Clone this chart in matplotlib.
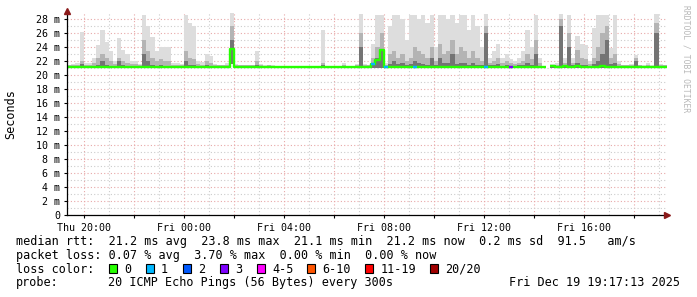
import numpy as np
import matplotlib
matplotlib.use('Agg')
import matplotlib.pyplot as plt
from matplotlib.patches import Rectangle

# 10 minute bins, hours counted from Thu 00:00
start_h = 19 + 20 / 60
bin_h = 1 / 6

# smoke (ms): light = slowest pings, mid / dark = inner pings
smoke_max = [
    21.5, 21.6, 21.8, 26.2, 21.7, 21.8, 22.4, 24.3, 26.5, 24.8, 23.4, 22.0,
    25.3, 23.6, 23.0, 22.0, 22.1, 21.6, 28.6, 27.0, 25.5, 23.4, 24.0, 24.1,
    24.1, 21.8, 21.7, 21.6, 28.6, 27.4, 27.0, 22.0, 21.9, 23.1, 22.8, 21.6,
    21.5, 21.5, 21.8, 29.0, 21.6, 21.5, 21.5, 21.5, 21.5, 23.4, 21.6, 21.4,
    21.5, 21.4, 21.3, 21.3, 21.3, 21.3, 21.3, 21.3, 21.3, 21.3, 21.3, 21.3,
    21.3, 26.5, 21.3, 21.3, 21.3, 21.3, 21.8, 21.3, 21.3, 21.6, 28.7, 21.6,
    21.5, 24.5, 28.6, 28.6, 21.8, 27.0, 28.6, 28.6, 28.0, 25.0, 28.6, 28.6,
    28.0, 28.6, 27.5, 28.6, 24.0, 28.6, 28.6, 28.0, 28.6, 27.5, 28.6, 28.6,
    26.5, 28.6, 27.0, 24.0, 28.7, 22.5, 23.5, 24.5, 22.5, 23.0, 22.3, 22.0,
    22.5, 23.5, 26.4, 24.0, 28.6, 22.5, 22.0, np.nan, 21.6, 21.8, 28.7, 22.5,
    28.6, 22.5, 25.6, 24.5, 24.3, 22.0, 26.7, 28.6, 28.6, 28.6, 23.9, 28.6,
    22.0, 21.5, 21.5, 21.6, 22.9, 21.5, 21.4, 21.8, 21.4, 28.7, 21.6, 21.5,
]
smoke_mid = [
    21.4, 21.4, 21.5, 22.0, 21.4, 21.5, 21.8, 22.5, 23.0, 22.5, 22.0, 21.6,
    22.5, 22.0, 21.8, 21.6, 21.6, 21.4, 25.0, 23.5, 22.5, 22.0, 22.3, 22.0,
    22.0, 21.5, 21.5, 21.4, 23.5, 22.5, 22.3, 21.6, 21.5, 22.0, 21.8, 21.4,
    21.4, 21.4, 21.5, 27.0, 21.4, 21.4, 21.4, 21.4, 21.4, 22.0, 21.4, 21.3,
    21.4, 21.3, 21.3, 21.3, 21.3, 21.3, 21.3, 21.3, 21.3, 21.3, 21.3, 21.3,
    21.3, 21.8, 21.3, 21.3, 21.3, 21.3, 21.5, 21.3, 21.3, 21.4, 26.0, 21.4,
    21.4, 22.5, 24.0, 26.0, 21.5, 23.0, 23.5, 22.5, 23.0, 22.0, 22.5, 24.0,
    23.5, 23.0, 22.5, 24.0, 22.0, 24.5, 23.0, 23.5, 25.0, 23.0, 24.0, 23.5,
    22.5, 23.5, 22.5, 22.0, 27.0, 21.8, 22.0, 22.5, 21.8, 22.0, 21.7, 21.6,
    21.8, 22.0, 23.0, 22.3, 25.0, 21.8, 21.6, np.nan, 21.4, 21.5, 28.0, 21.8,
    26.0, 21.8, 23.6, 22.5, 22.3, 21.6, 22.5, 24.0, 26.0, 27.0, 22.5, 23.0,
    21.6, 21.4, 21.4, 21.5, 22.5, 21.4, 21.3, 21.5, 21.3, 27.5, 21.4, 21.4,
]
smoke_dark = [
    21.3, 21.3, 21.3, 21.6, 21.3, 21.3, 21.3, 21.4, 22.0, 21.5, 21.3, 21.3,
    22.0, 21.4, 21.3, 21.3, 21.3, 21.3, 23.0, 22.0, 21.5, 21.3, 21.4, 21.3,
    21.3, 21.3, 21.3, 21.3, 22.0, 21.5, 21.4, 21.3, 21.3, 21.4, 21.3, 21.3,
    21.3, 21.3, 21.3, 25.0, 21.3, 21.3, 21.3, 21.3, 21.3, 21.4, 21.3, 21.3,
    21.3, 21.3, 21.3, 21.3, 21.3, 21.3, 21.3, 21.3, 21.3, 21.3, 21.3, 21.3,
    21.3, 21.4, 21.3, 21.3, 21.3, 21.3, 21.3, 21.3, 21.3, 21.3, 24.0, 21.3,
    21.3, 21.6, 22.5, 23.5, 21.3, 21.6, 22.0, 21.6, 21.7, 21.4, 21.6, 22.0,
    21.8, 21.6, 21.5, 22.5, 21.4, 22.5, 21.8, 21.7, 23.0, 21.6, 21.8, 21.7,
    21.5, 21.8, 21.5, 21.4, 26.0, 21.4, 21.4, 21.6, 21.3, 21.4, 21.3, 21.3,
    21.4, 21.4, 21.8, 21.5, 23.0, 21.3, 21.3, np.nan, 21.3, 21.3, 27.0, 21.4,
    24.0, 21.4, 21.8, 21.5, 21.4, 21.3, 21.6, 22.0, 23.0, 25.0, 21.6, 21.8,
    21.3, 21.3, 21.3, 21.3, 22.0, 21.3, 21.3, 21.3, 21.3, 26.0, 21.3, 21.3,
]
smoke_min = [
    21.1, 21.1, 21.1, 21.1, 21.1, 21.1, 21.1, 21.1, 21.1, 21.1, 21.1, 21.1,
    21.1, 21.1, 21.1, 21.1, 21.1, 21.1, 21.1, 21.1, 21.1, 21.1, 21.1, 21.1,
    21.1, 21.1, 21.1, 21.1, 21.1, 21.1, 21.1, 21.1, 21.1, 21.1, 21.1, 21.1,
    21.1, 21.1, 21.1, 21.6, 21.1, 21.1, 21.1, 21.1, 21.1, 21.1, 21.1, 21.1,
    21.1, 21.1, 21.1, 21.1, 21.1, 21.1, 21.1, 21.1, 21.1, 21.1, 21.1, 21.1,
    21.1, 21.1, 21.1, 21.1, 21.1, 21.1, 21.1, 21.1, 21.1, 21.1, 21.1, 21.1,
    21.1, 21.1, 21.1, 21.1, 21.1, 21.1, 21.1, 21.1, 21.1, 21.1, 21.1, 21.1,
    21.1, 21.1, 21.1, 21.1, 21.1, 21.1, 21.1, 21.1, 21.1, 21.1, 21.1, 21.1,
    21.1, 21.1, 21.1, 21.1, 21.1, 21.1, 21.1, 21.1, 21.1, 21.1, 21.1, 21.1,
    21.1, 21.1, 21.1, 21.1, 21.1, 21.1, 21.1, np.nan, 21.1, 21.1, 21.1, 21.1,
    21.1, 21.1, 21.1, 21.1, 21.1, 21.1, 21.1, 21.1, 21.1, 21.1, 21.1, 21.1,
    21.1, 21.1, 21.1, 21.1, 21.1, 21.1, 21.1, 21.1, 21.1, 21.1, 21.1, 21.1,
]
median_rtt = [
    21.2, 21.2, 21.2, 21.2, 21.2, 21.2, 21.2, 21.2, 21.2, 21.2, 21.2, 21.2,
    21.2, 21.2, 21.2, 21.2, 21.2, 21.2, 21.2, 21.2, 21.2, 21.2, 21.2, 21.2,
    21.2, 21.2, 21.2, 21.2, 21.2, 21.2, 21.2, 21.2, 21.2, 21.2, 21.2, 21.2,
    21.2, 21.2, 21.2, 23.8, 21.2, 21.2, 21.2, 21.2, 21.2, 21.2, 21.2, 21.2,
    21.2, 21.2, 21.2, 21.2, 21.2, 21.2, 21.2, 21.2, 21.2, 21.2, 21.2, 21.2,
    21.2, 21.2, 21.2, 21.2, 21.2, 21.2, 21.2, 21.2, 21.2, 21.2, 21.2, 21.2,
    21.2, 21.6, 22.2, 23.6, 21.2, 21.2, 21.2, 21.2, 21.2, 21.2, 21.2, 21.2,
    21.2, 21.2, 21.2, 21.2, 21.2, 21.2, 21.2, 21.2, 21.2, 21.2, 21.2, 21.2,
    21.2, 21.2, 21.2, 21.2, 21.2, 21.2, 21.2, 21.2, 21.2, 21.2, 21.2, 21.2,
    21.2, 21.2, 21.2, 21.2, 21.2, 21.2, 21.2, np.nan, 21.3, 21.2, 21.2, 21.3,
    21.2, 21.2, 21.3, 21.2, 21.2, 21.2, 21.2, 21.2, 21.3, 21.2, 21.2, 21.2,
    21.2, 21.2, 21.2, 21.2, 21.2, 21.2, 21.2, 21.2, 21.2, 21.2, 21.2, 21.2,
]
loss_count = [
    0, 0, 0, 0, 0, 0, 0, 0, 0, 0, 0, 0,
    0, 0, 0, 0, 0, 0, 0, 0, 0, 0, 0, 0,
    0, 0, 0, 0, 0, 0, 0, 0, 0, 0, 0, 0,
    0, 0, 0, 0, 0, 0, 0, 0, 0, 0, 0, 0,
    0, 0, 0, 0, 0, 0, 0, 0, 0, 0, 0, 0,
    0, 0, 0, 0, 0, 0, 0, 0, 0, 0, 0, 0,
    0, 1, 0, 0, 1, 0, 0, 0, 0, 0, 0, 1,
    0, 0, 0, 0, 0, 0, 0, 0, 0, 0, 0, 0,
    0, 0, 0, 0, 1, 0, 0, 0, 0, 0, 3, 0,
    0, 0, 0, 0, 0, 0, 0, 0, 0, 0, 0, 0,
    0, 0, 0, 0, 0, 0, 0, 0, 0, 0, 0, 0,
    0, 0, 0, 0, 0, 0, 0, 0, 0, 0, 0, 0,
]

loss_labels = ['0', '1', '2', '3', '4-5', '6-10', '11-19', '20/20']
loss_colors = ['#26ff00', '#00b8ff', '#0059ff', '#7e00ff',
               '#ff00ff', '#ff5500', '#ff0000', '#a00000']
tick_hours = [20, 24, 28, 32, 36, 40]
tick_names = ['Thu 20:00', 'Fri 00:00', 'Fri 04:00', 'Fri 08:00', 'Fri 12:00', 'Fri 16:00']
y_ticks = [0, 2, 4, 6, 8, 10, 12, 14, 16, 18, 20, 22, 24, 26, 28]

W, H = 697, 297
plt.rcParams['font.family'] = 'DejaVu Sans Mono'
fig = plt.figure(figsize=(W / 100, H / 100), dpi=100, facecolor='white')
ax = fig.add_axes([67 / W, 1 - 215 / H, 600 / W, 202 / H])

n = len(smoke_max)
edges = start_h + np.arange(n + 1) * bin_h


def ext(v):
    v = np.asarray(v, dtype=float)
    return np.append(v, v[-1])


lo = ext(smoke_min)
for top, col in [(smoke_max, '#dddddd'), (smoke_mid, '#b4b4b4'), (smoke_dark, '#747474')]:
    ax.fill_between(edges, lo, ext(top), step='post', color=col, lw=0, zorder=2)

ax.plot(edges, ext(median_rtt), drawstyle='steps-post', color=loss_colors[0],
        lw=1.7, zorder=4, solid_capstyle='butt')


def loss_idx(c):
    if c <= 3:
        return c
    if c <= 5:
        return 4
    if c <= 10:
        return 5
    if c <= 19:
        return 6
    return 7


for i, c in enumerate(loss_count):
    if c > 0:
        ax.hlines(median_rtt[i], edges[i], edges[i + 1], color=loss_colors[loss_idx(c)],
                  lw=1.7, zorder=5)

ax.set_xlim(edges[0], edges[-1])
ax.set_ylim(0, 28.9)

# grids: major every 2 h / 2 m, minor every 1 h / 1 m
ax.set_xticks(np.arange(20, 44, 2))
ax.set_xticklabels([tick_names[tick_hours.index(h)] if h in tick_hours else '' for h in range(20, 44, 2)])
ax.set_xticks(np.arange(20, 44, 1), minor=True)
ax.set_yticks(y_ticks)
ax.set_yticklabels(['0' if v == 0 else f'{v} m' for v in y_ticks])
ax.set_yticks(np.arange(1, 29, 1), minor=True)
ax.grid(which='major', color='#e8a8a8', linestyle=(0, (1, 2)), lw=0.8, zorder=1)
ax.grid(which='minor', color='#cccccc', linestyle=(0, (1, 2)), lw=0.8, zorder=1)
ax.tick_params(which='major', length=2, width=0.8, labelsize=7.2, pad=3)
ax.tick_params(which='minor', length=0)
ax.tick_params(axis='x', pad=4)

for s in ['top', 'right']:
    ax.spines[s].set_visible(False)
for s in ['left', 'bottom']:
    ax.spines[s].set_color('black')
    ax.spines[s].set_linewidth(0.9)
    ax.spines[s].set_zorder(6)

# axis arrows
ax.plot([1.0], [0], marker='>', ms=4, color='#8b1a1a', transform=ax.transAxes, clip_on=False, zorder=7)
ax.plot([0], [1.01], marker='^', ms=4, color='#8b1a1a', transform=ax.transAxes, clip_on=False, zorder=7)


def ftext(x, y, s, **kw):
    fig.text(x / W, 1 - y / H, s, **kw)


ftext(11, 114, 'Seconds', rotation=90, ha='center', va='center', fontsize=8.5)
ftext(686, 5, 'RRDTOOL / TOBI OETIKER', rotation=270, ha='center', va='top',
      fontsize=5.8, color='#b8b8b8')

fs = 8.5
ftext(16, 245, 'median rtt:  21.2 ms avg  23.8 ms max  21.1 ms min  21.2 ms now  0.2 ms sd  91.5   am/s',
      fontsize=fs, va='baseline')
ftext(16, 259, 'packet loss: 0.07 % avg  3.70 % max  0.00 % min  0.00 % now', fontsize=fs, va='baseline')
ftext(16, 272.7, 'loss color:', fontsize=fs, va='baseline')
ftext(16, 286.4, 'probe:', fontsize=fs, va='baseline')
ftext(107.5, 286.4, '20 ICMP Echo Pings (56 Bytes) every 300s', fontsize=fs, va='baseline')
ftext(680, 286.4, 'Fri Dec 19 19:17:13 2025', fontsize=fs, va='baseline', ha='right')

sq_x = [108.7, 145.7, 182.7, 219.7, 256.7, 306.7, 365, 430]
for x, lab, col in zip(sq_x, loss_labels, loss_colors):
    fig.patches.append(Rectangle((x / W, 1 - 272.7 / H), 8 / W, 8.3 / H, transform=fig.transFigure,
                                 facecolor=col, edgecolor='black', lw=0.8))
    ftext(x + 15.3, 272.7, lab, fontsize=fs, va='baseline')

fig.savefig('out.png', dpi=100, facecolor='white')
